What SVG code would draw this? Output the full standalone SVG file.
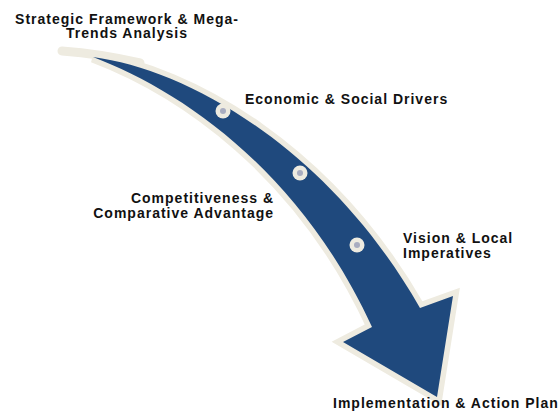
<svg xmlns="http://www.w3.org/2000/svg" width="559" height="412" viewBox="0 0 559 412">
<style>
.t{font-family:"Liberation Sans",Arial,sans-serif;font-weight:bold;font-size:14px;letter-spacing:1px;fill:#111}
.dot{fill:#EEEBE0}
.in{fill:#A9ADC0}
</style>
<rect width="559" height="412" fill="#fff"/>
<g id="arrow">
<path d="M62,51 C90,53 110,56 140,63" fill="none" stroke="#EEEBE0" stroke-width="9" stroke-linecap="round"/>
<path d="M93,57 C190,70 330,150 420,308 L453,296 L437,397 L343,342 L372,327 C300,170 180,90 93,57 Z" fill="#EEEBE0" stroke="#EEEBE0" stroke-width="11" stroke-linejoin="miter"/>
<path d="M93,57 C190,70 330,150 420,308 L453,296 L437,397 L343,342 L372,327 C300,170 180,90 93,57 Z" fill="#1F497D"/>
</g>
<g id="dots">
<circle class="dot" cx="223" cy="111" r="7.5"/><circle class="in" cx="223" cy="111" r="3"/>
<circle class="dot" cx="300" cy="173" r="7.5"/><circle class="in" cx="300" cy="173" r="3"/>
<circle class="dot" cx="357" cy="245" r="7.5"/><circle class="in" cx="357" cy="245" r="3"/>
</g>
<g id="n1"><text class="t" x="127" y="23.5" text-anchor="middle">Strategic Framework &amp; Mega-</text><text class="t" x="127" y="38" text-anchor="middle">Trends Analysis</text></g>
<g id="n2"><text class="t" x="245" y="104">Economic &amp; Social Drivers</text></g>
<g id="n3"><text class="t" x="274" y="203" text-anchor="end">Competitiveness &amp;</text><text class="t" x="274" y="217.5" text-anchor="end">Comparative Advantage</text></g>
<g id="n4"><text class="t" x="403" y="243">Vision &amp; Local</text><text class="t" x="403" y="257.5">Imperatives</text></g>
<g id="n5"><text class="t" x="333" y="407.5">Implementation &amp; Action Plan</text></g>
</svg>
